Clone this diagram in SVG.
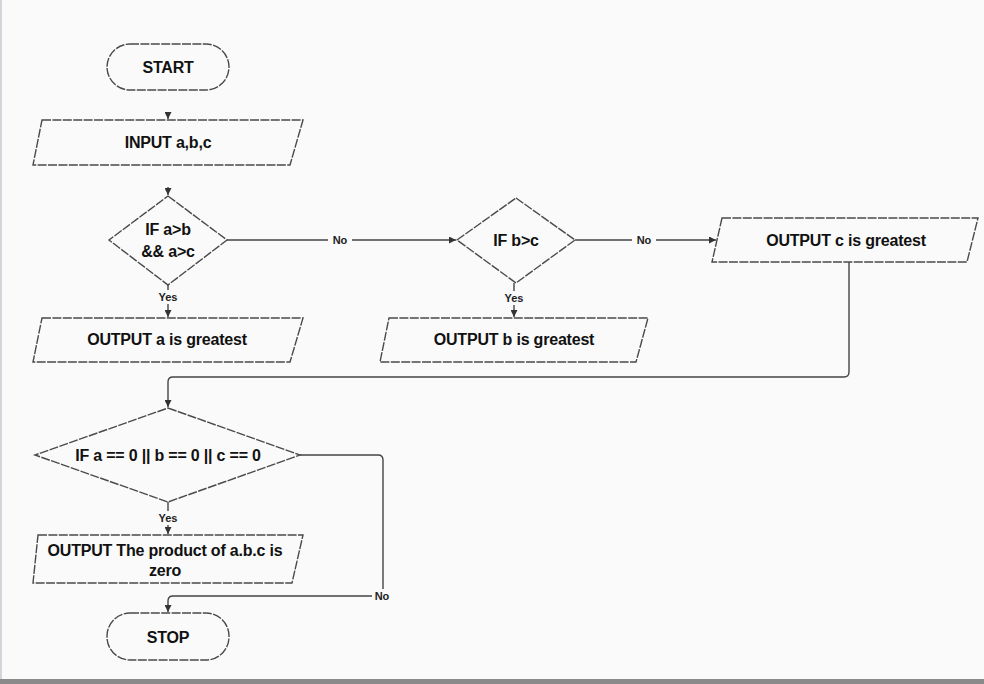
<svg xmlns="http://www.w3.org/2000/svg" width="984" height="684" viewBox="0 0 984 684">
<defs>
<marker id="arr" viewBox="0 0 10 10" refX="10" refY="5" markerWidth="7" markerHeight="7" orient="auto" markerUnits="userSpaceOnUse">
<path d="M0,0 L10,5 L0,10 Z" fill="#333"/>
</marker>
<style>
.shape{fill:none;stroke:#4a4a4a;stroke-width:1.4;stroke-dasharray:9 1.4}
.t{font-family:"Liberation Sans",Arial,sans-serif;font-weight:bold;font-size:16px;fill:#111;text-anchor:middle;dominant-baseline:central;letter-spacing:-0.2px}
.lbl{font-family:"Liberation Sans",Arial,sans-serif;font-weight:bold;font-size:11px;fill:#222;text-anchor:middle;dominant-baseline:central}
.c{fill:none;stroke:#444;stroke-width:1.4}
.bg{fill:#fafafa}
</style>
</defs>
<rect x="0" y="0" width="984" height="684" fill="#fafafa"/>
<rect x="0" y="0" width="2" height="684" fill="#d2d6da"/>
<rect x="0" y="679" width="984" height="5" fill="#8a8a8a"/>

<g id="connectors">
<line class="c" x1="168" y1="112" x2="168" y2="119" marker-end="url(#arr)"/>
<line class="c" x1="168" y1="187" x2="168" y2="195" marker-end="url(#arr)"/>
<line class="c" x1="227" y1="240" x2="456" y2="240" marker-end="url(#arr)"/>
<line class="c" x1="168" y1="285" x2="168" y2="317" marker-end="url(#arr)"/>
<line class="c" x1="575" y1="240" x2="716" y2="240" marker-end="url(#arr)"/>
<line class="c" x1="514" y1="283" x2="514" y2="317" marker-end="url(#arr)"/>
<path class="c" d="M849,262 V372 Q849,377 844,377 H173 Q168,377 168,382 V407" marker-end="url(#arr)"/>
<line class="c" x1="168" y1="502" x2="168" y2="534" marker-end="url(#arr)"/>
<path class="c" d="M300,455 H378 Q383,455 383,460 V596 H173 Q168,596 168,601 V612" marker-end="url(#arr)"/>
<rect class="bg" x="328" y="233" width="24" height="14"/>
<text class="lbl" x="340" y="240">No</text>
<rect class="bg" x="632" y="233" width="24" height="14"/>
<text class="lbl" x="644" y="240">No</text>
<rect class="bg" x="156" y="290" width="24" height="14"/>
<text class="lbl" x="168" y="297">Yes</text>
<rect class="bg" x="502" y="291" width="24" height="14"/>
<text class="lbl" x="514" y="298">Yes</text>
<rect class="bg" x="156" y="511" width="24" height="14"/>
<text class="lbl" x="168" y="518">Yes</text>
<rect class="bg" x="372" y="589" width="22" height="14"/>
<text class="lbl" x="382" y="596">No</text>
</g>

<g id="start">
<rect class="shape" x="107" y="44" width="122" height="46" rx="23" ry="23"/>
<text class="t" x="168" y="67">START</text>
</g>

<g id="input">
<path class="shape" d="M42,120 L303,120 L290,165 L33,165 Z"/>
<text class="t" x="168" y="142">INPUT a,b,c</text>
</g>

<g id="cond1">
<path class="shape" d="M168,196 L227,240 L168,285 L109,240 Z"/>
<text class="t" x="168" y="229">IF a&gt;b</text>
<text class="t" x="168" y="251">&amp;&amp; a&gt;c</text>
</g>

<g id="cond2">
<path class="shape" d="M516,198 L575,240 L516,283 L457,240 Z"/>
<text class="t" x="516" y="240">IF b&gt;c</text>
</g>

<g id="outc">
<path class="shape" d="M722,218 L978,218 L967,262 L712,262 Z"/>
<text class="t" x="846" y="240">OUTPUT c is greatest</text>
</g>

<g id="outa">
<path class="shape" d="M42,318 L303,318 L290,362 L33,362 Z"/>
<text class="t" x="167" y="339">OUTPUT a is greatest</text>
</g>

<g id="outb">
<path class="shape" d="M389,318 L648,318 L636,362 L380,362 Z"/>
<text class="t" x="514" y="339">OUTPUT b is greatest</text>
</g>

<g id="cond3">
<path class="shape" d="M168,408 L300,455 L168,502 L35,455 Z"/>
<text class="t" x="168" y="455">IF a == 0 || b == 0 || c == 0</text>
</g>

<g id="outprod">
<path class="shape" d="M38,535 L303,535 L292,583 L33,583 Z"/>
<text class="t" x="165" y="550">OUTPUT The product of a.b.c is</text>
<text class="t" x="165" y="570">zero</text>
</g>

<g id="stop">
<rect class="shape" x="107" y="613" width="122" height="47" rx="23" ry="23"/>
<text class="t" x="168" y="637">STOP</text>
</g>
</svg>
